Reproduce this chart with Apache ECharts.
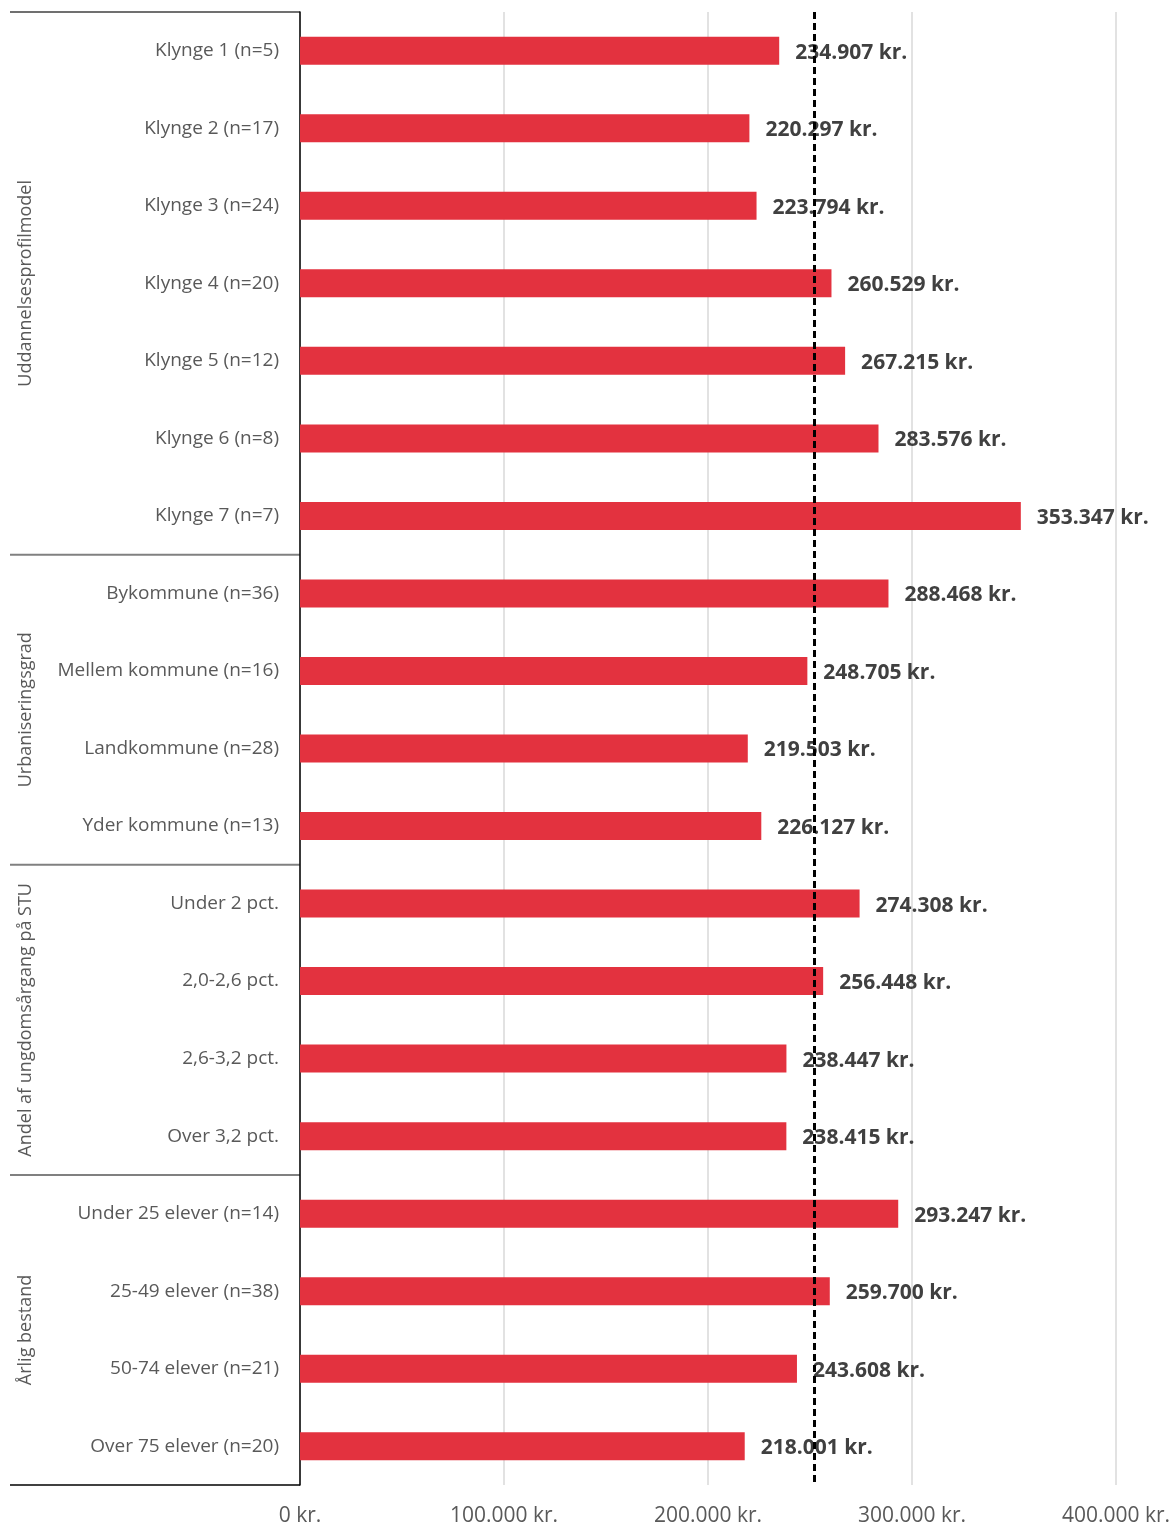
<!DOCTYPE html>
<html><head><meta charset="utf-8">
<script src="https://cdn.jsdelivr.net/npm/echarts@6/dist/echarts.min.js"></script>
<style>html,body{margin:0;padding:0;background:#fff}#c{width:1173px;height:1526px}</style>
</head><body><div id="c"></div>
<script>
const categories = [
  "Klynge 1 (n=5)","Klynge 2 (n=17)","Klynge 3 (n=24)","Klynge 4 (n=20)","Klynge 5 (n=12)","Klynge 6 (n=8)","Klynge 7 (n=7)",
  "Bykommune (n=36)","Mellem kommune (n=16)","Landkommune (n=28)","Yder kommune (n=13)",
  "Under 2 pct.","2,0-2,6 pct.","2,6-3,2 pct.","Over 3,2 pct.",
  "Under 25 elever (n=14)","25-49 elever (n=38)","50-74 elever (n=21)","Over 75 elever (n=20)"
];
const values = [234907,220297,223794,260529,267215,283576,353347,288468,248705,219503,226127,274308,256448,238447,238415,293247,259700,243608,218001];
const groupNames = ["Uddannelsesprofilmodel","Urbaniseringsgrad","Andel af ungdomsårgang på STU","Årlig bestand"];
const groupSizes = [7,4,4,4];
const averageValue = 252000;
const xTicks = [0,100000,200000,300000,400000];

const fmt = v => Math.round(v).toString().replace(/\B(?=(\d{3})+(?!\d))/g, '.') + ' kr.';
const FONT = '"Open Sans", sans-serif';
const chart = echarts.init(document.getElementById('c'));
chart.setOption({
  animation:false,
  grid:{left:300,right:57,top:12,bottom:41,containLabel:false,outerBoundsMode:'none'},
  xAxis:{type:'value',min:xTicks[0],max:xTicks[xTicks.length-1],interval:100000,
    axisLine:{show:false},axisTick:{show:false},
    splitLine:{lineStyle:{color:'#d9d9d9',width:1.5}},
    axisLabel:{formatter:fmt,color:'#595959',fontSize:21,fontFamily:FONT,margin:21}},
  yAxis:{type:'category',data:categories,inverse:true,
    axisLine:{lineStyle:{color:'#000',width:1.5}},axisTick:{show:false},
    axisLabel:{color:'#595959',fontSize:19,fontFamily:FONT,margin:21,padding:[3,0,0,0]}},
  series:[{type:'bar',data:values,barWidth:28,itemStyle:{color:'#E3323F'},
    label:{show:true,position:'right',distance:16,formatter:p=>fmt(p.value),offset:[0,2],
      color:'#404040',fontWeight:'bold',fontSize:21,fontFamily:FONT},
    markLine:{silent:true,symbol:'none',label:{show:false},
      lineStyle:{color:'#000',type:[7,4],width:3},
      data:[{xAxis:averageValue}]}}]
});

function drawGroups(){
  const top = chart.convertToPixel({yAxisIndex:0}, 0);
  const second = chart.convertToPixel({yAxisIndex:0}, 1);
  const band = second - top;
  const x0 = chart.convertToPixel({xAxisIndex:0}, 0);
  const els = [];
  let start = 0;
  const yTop = top - band/2;
  els.push({type:'line',shape:{x1:10,y1:yTop,x2:x0,y2:yTop},style:{stroke:'#404040',lineWidth:1.5}});
  groupSizes.forEach((n,i)=>{
    const yS = top + (start-0.5)*band;
    const yE = top + (start+n-0.5)*band;
    const last = i===groupSizes.length-1;
    els.push({type:'line',shape:{x1:10,y1:yE,x2:x0,y2:yE},style:{stroke:last?'#000':'#808080',lineWidth:last?1.5:2}});
    els.push({type:'text',x:26,y:(yS+yE)/2,rotation:Math.PI/2,
      style:{text:groupNames[i],fill:'#595959',font:'18px '+FONT,align:'center',verticalAlign:'middle'}});
    start += n;
  });
  chart.setOption({graphic:els});
}
drawGroups();
</script></body></html>
